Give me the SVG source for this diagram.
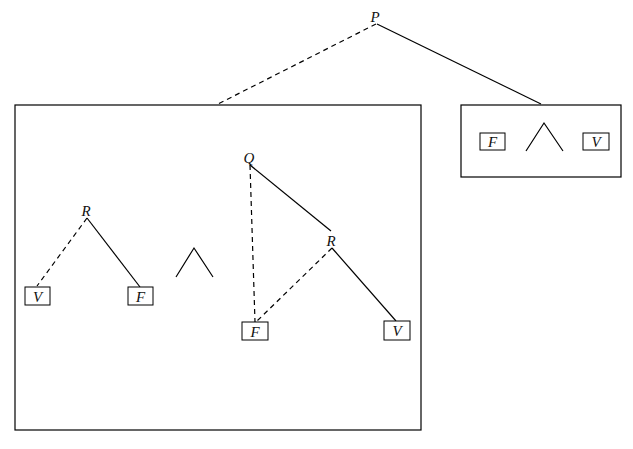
<svg xmlns="http://www.w3.org/2000/svg" width="633" height="449" viewBox="0 0 633 449">
<style>
.lbl{font-family:"Liberation Serif","Times New Roman",serif;font-style:italic;font-size:15px;fill:#111;text-anchor:middle}
.box{fill:#fff;stroke:#000;stroke-width:1}
.frame{fill:none;stroke:#000;stroke-width:1.2}
.s{stroke:#000;stroke-width:1.2;fill:none}
.d{stroke:#000;stroke-width:1.2;fill:none;stroke-dasharray:5,4}
</style>
<rect width="633" height="449" fill="#fff"/>
<g id="frames">
<rect class="frame" x="15" y="105" width="406" height="325"/>
<rect class="frame" x="461" y="105" width="160" height="72"/>
</g>
<g id="connectors">
<line class="d" x1="376" y1="24" x2="218" y2="104"/>
<line class="s" x1="377" y1="24" x2="541" y2="104"/>
<line class="d" x1="87" y1="218" x2="37" y2="286"/>
<line class="s" x1="87" y1="218" x2="140" y2="287"/>
<line class="d" x1="250" y1="165" x2="255" y2="322"/>
<line class="s" x1="250" y1="165" x2="331" y2="231"/>
<line class="d" x1="332" y1="248" x2="256" y2="322"/>
<line class="s" x1="332" y1="248" x2="396" y2="321"/>
<polyline class="s" points="176,277 194,248 213,277"/>
<polyline class="s" points="526,151 544,123 563,151"/>
</g>
<g id="P"><text class="lbl" x="375" y="22">P</text></g>
<g id="R1"><text class="lbl" x="86" y="216">R</text></g>
<g id="Q"><text class="lbl" x="249" y="163">Q</text></g>
<g id="R2"><text class="lbl" x="331" y="246">R</text></g>
<g id="V1"><rect class="box" x="25" y="287" width="25" height="18"/><text class="lbl" x="37.5" y="301.5">V</text></g>
<g id="F1"><rect class="box" x="128" y="287" width="25" height="18"/><text class="lbl" x="140.5" y="301.5">F</text></g>
<g id="F2"><rect class="box" x="242" y="322" width="26" height="18"/><text class="lbl" x="255" y="336.5">F</text></g>
<g id="V2"><rect class="box" x="384" y="321" width="26" height="19"/><text class="lbl" x="397" y="336">V</text></g>
<g id="F3"><rect class="box" x="480" y="133" width="25" height="17"/><text class="lbl" x="492.5" y="147">F</text></g>
<g id="V3"><rect class="box" x="583" y="133" width="26" height="17"/><text class="lbl" x="596" y="147">V</text></g>
</svg>
